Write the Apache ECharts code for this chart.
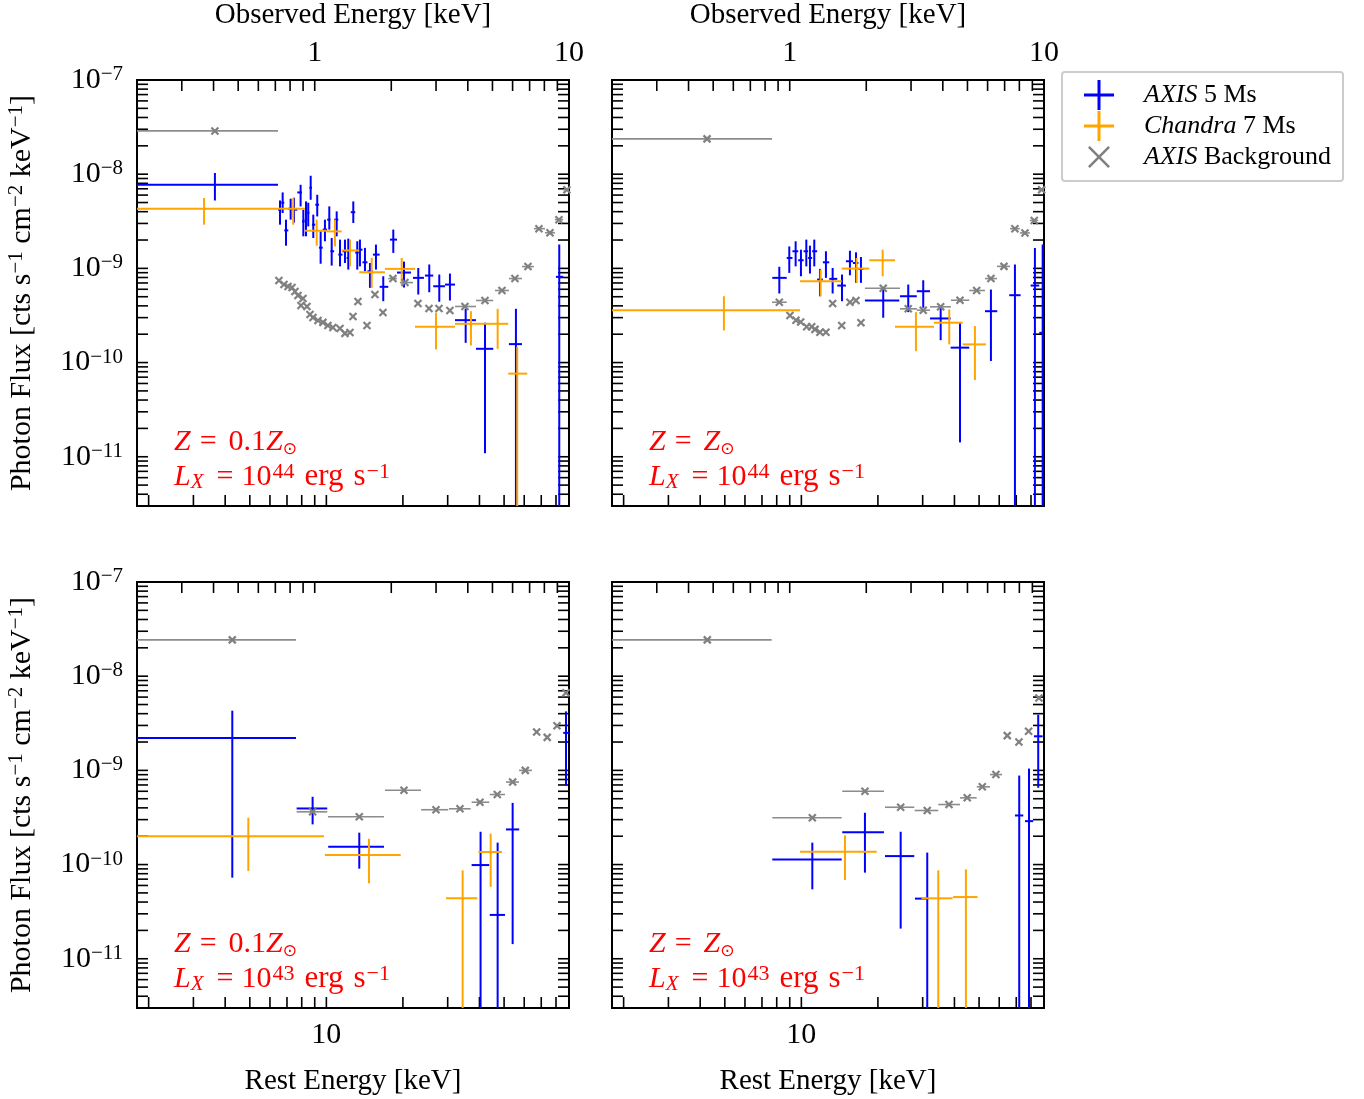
<!DOCTYPE html>
<html>
<head>
<meta charset="utf-8">
<script src="https://cdn.jsdelivr.net/npm/echarts@6.0.0/dist/echarts.min.js"></script>
<style>html,body{margin:0;padding:0;background:#fff}#chart{width:1364px;height:1099px}</style>
</head>
<body>
<div id="chart"></div>
<script>
// rows: [E_obs keV, flux, E_lo, E_hi, flux_lo, flux_hi]; 1e-13 = bar runs off the bottom
const axisZ01L44 = [
  [0.405, 7.72e-9, 0.2, 0.717, 5.26e-9, 1.03e-8],
  [0.730, 4.20e-9, 0.717, 0.739, 2.91e-9, 5.26e-9],
  [0.748, 4.98e-9, 0.739, 0.759, 3.87e-9, 6.40e-9],
  [0.771, 2.53e-9, 0.759, 0.787, 1.74e-9, 3.29e-9],
  [0.804, 4.30e-9, 0.787, 0.816, 3.29e-9, 5.49e-9],
  [0.829, 4.20e-9, 0.816, 0.854, 3.06e-9, 5.62e-9],
  [0.880, 6.40e-9, 0.854, 0.891, 4.55e-9, 7.72e-9],
  [0.902, 3.15e-9, 0.891, 0.913, 2.19e-9, 4.20e-9],
  [0.924, 3.29e-9, 0.913, 0.934, 2.19e-9, 5.14e-9],
  [0.943, 3.90e-9, 0.934, 0.953, 2.79e-9, 4.98e-9],
  [0.964, 7.18e-9, 0.953, 0.975, 5.35e-9, 9.62e-9],
  [0.987, 2.91e-9, 0.975, 1.005, 2.10e-9, 3.72e-9],
  [1.023, 4.74e-9, 1.005, 1.039, 3.56e-9, 6.05e-9],
  [1.055, 1.66e-9, 1.039, 1.075, 1.12e-9, 2.47e-9],
  [1.097, 2.58e-9, 1.075, 1.119, 1.94e-9, 3.29e-9],
  [1.141, 3.29e-9, 1.119, 1.153, 2.58e-9, 4.55e-9],
  [1.166, 1.52e-9, 1.153, 1.192, 1.07e-9, 2.10e-9],
  [1.220, 3.29e-9, 1.192, 1.238, 2.19e-9, 4.03e-9],
  [1.257, 1.40e-9, 1.238, 1.286, 1.05e-9, 2.02e-9],
  [1.315, 1.52e-9, 1.286, 1.335, 1.14e-9, 2.02e-9],
  [1.355, 1.29e-9, 1.335, 1.386, 9.71e-10, 2.07e-9],
  [1.418, 3.95e-9, 1.386, 1.443, 3.03e-9, 5.14e-9],
  [1.470, 1.47e-9, 1.443, 1.489, 9.71e-10, 1.94e-9],
  [1.506, 1.58e-9, 1.489, 1.541, 1.05e-9, 2.02e-9],
  [1.576, 1.16e-9, 1.541, 1.612, 9.32e-10, 1.65e-9],
  [1.649, 9.32e-10, 1.612, 1.694, 6.21e-10, 1.14e-9],
  [1.741, 1.40e-9, 1.694, 1.800, 9.71e-10, 1.79e-9],
  [1.860, 6.37e-10, 1.800, 1.946, 4.48e-10, 8.25e-10],
  [2.037, 2.02e-9, 1.976, 2.106, 1.46e-9, 2.58e-9],
  [2.244, 9.03e-10, 2.106, 2.390, 6.26e-10, 1.18e-9],
  [2.554, 7.93e-10, 2.434, 2.689, 5.28e-10, 1.01e-9],
  [2.821, 8.39e-10, 2.713, 2.925, 5.58e-10, 1.10e-9],
  [3.089, 6.46e-10, 2.925, 3.252, 4.42e-10, 8.60e-10],
  [3.402, 6.73e-10, 3.252, 3.561, 4.56e-10, 8.81e-10],
  [3.923, 2.82e-10, 3.561, 4.306, 1.62e-10, 3.72e-10],
  [4.673, 1.40e-10, 4.306, 5.036, 1.09e-11, 2.65e-10],
  [6.184, 1.57e-10, 5.804, 6.531, 1e-13, 3.72e-10],
  [9.155, 8.13e-10, 8.886, 9.493, 1e-13, 1.79e-9]
];
const chandraZ01L44 = [
  [0.367, 4.30e-9, 0.2, 0.730, 2.91e-9, 5.58e-9],
  [0.823, 4.30e-9, 0.730, 0.915, 2.91e-9, 5.58e-9],
  [1.018, 2.51e-9, 0.915, 1.114, 1.74e-9, 3.29e-9],
  [1.201, 2.47e-9, 1.114, 1.276, 1.71e-9, 3.29e-9],
  [1.376, 1.55e-9, 1.276, 1.497, 1.05e-9, 2.02e-9],
  [1.675, 9.09e-10, 1.497, 1.889, 6.21e-10, 1.29e-9],
  [2.198, 9.88e-10, 1.889, 2.479, 6.73e-10, 1.29e-9],
  [2.998, 2.40e-10, 2.479, 3.561, 1.38e-10, 3.38e-10],
  [4.115, 2.58e-10, 3.561, 4.715, 1.52e-10, 3.51e-10],
  [5.241, 2.58e-10, 4.715, 5.768, 1.40e-10, 3.72e-10],
  [6.257, 7.63e-11, 5.768, 6.853, 1e-13, 1.47e-10]
];
// rows: [E_obs keV, flux, E_lo, E_hi] (no bin given = only the cross)
const bkgZ01L44 = [
  [0.405, 2.88e-8, 0.2, 0.717],
  [0.723, 7.43e-10], [0.757, 6.73e-10], [0.785, 6.41e-10], [0.814, 6.26e-10],
  [0.836, 5.68e-10], [0.859, 5.15e-10], [0.899, 4.79e-10], [0.883, 4.04e-10],
  [0.932, 3.94e-10], [0.958, 3.24e-10], [0.984, 3.01e-10], [1.030, 2.80e-10],
  [1.077, 2.67e-10], [1.127, 2.48e-10], [1.179, 2.36e-10], [1.257, 2.30e-10],
  [1.315, 2.04e-10], [1.376, 2.09e-10], [1.414, 3.09e-10], [1.479, 4.45e-10],
  [1.605, 2.48e-10], [1.725, 5.28e-10], [1.855, 3.40e-10],
  [2.031, 7.80e-10, 1.946, 2.106],
  [2.264, 7.07e-10, 2.164, 2.434],
  [2.547, 4.24e-10], [2.814, 3.75e-10], [3.081, 3.75e-10], [3.402, 3.57e-10],
  [3.898, 3.94e-10, 3.561, 4.306],
  [4.673, 4.56e-10, 4.306, 5.036],
  [5.449, 5.82e-10, 5.114, 5.804],
  [6.129, 7.80e-10, 5.804, 6.531],
  [6.897, 1.045e-9, 6.531, 7.28],
  [7.617, 2.64e-9, 7.28, 8.04],
  [8.417, 2.39e-9, 8.04, 8.80],
  [9.13, 3.29e-9, 8.80, 9.49],
  [9.81, 6.83e-9, 9.49, 10]
];

const axisZ1L44 = [
  [0.910, 7.93e-10, 0.854, 0.973, 5.41e-10, 1.04e-9],
  [0.996, 1.29e-9, 0.973, 1.025, 8.96e-10, 1.71e-9],
  [1.055, 1.52e-9, 1.025, 1.080, 1.05e-9, 1.94e-9],
  [1.107, 1.22e-9, 1.080, 1.134, 8.25e-10, 1.58e-9],
  [1.162, 1.52e-9, 1.134, 1.181, 1.05e-9, 2.02e-9],
  [1.201, 1.29e-9, 1.181, 1.225, 8.81e-10, 1.74e-9],
  [1.249, 1.52e-9, 1.225, 1.282, 1.05e-9, 2.02e-9],
  [1.315, 7.61e-10, 1.282, 1.350, 5.06e-10, 9.88e-10],
  [1.388, 1.16e-9, 1.350, 1.430, 7.93e-10, 1.52e-9],
  [1.475, 7.74e-10, 1.430, 1.538, 5.41e-10, 1.01e-9],
  [1.605, 6.57e-10, 1.538, 1.663, 4.48e-10, 8.60e-10],
  [1.725, 1.19e-9, 1.663, 1.773, 8.45e-10, 1.54e-9],
  [1.822, 1.14e-9, 1.773, 1.863, 7.02e-10, 1.48e-9],
  [1.906, 9.88e-10, 1.863, 1.950, 7.02e-10, 1.32e-9],
  [2.332, 4.56e-10, 1.976, 2.697, 2.99e-10, 5.96e-10],
  [2.925, 5.06e-10, 2.713, 3.160, 3.43e-10, 6.73e-10],
  [3.350, 5.72e-10, 3.160, 3.561, 3.82e-10, 7.48e-10],
  [3.923, 2.94e-10, 3.561, 4.294, 1.73e-10, 3.97e-10],
  [4.673, 1.44e-10, 4.294, 5.082, 1.42e-11, 2.69e-10],
  [6.184, 3.51e-10, 5.859, 6.550, 1.04e-10, 5.96e-10],
  [7.686, 5.19e-10, 7.30, 8.09, 1e-13, 1.10e-9],
  [9.21, 6.57e-10, 8.86, 9.58, 1e-13, 1.65e-9],
  [9.88, 2.07e-10, 9.58, 10, 1e-13, 1.79e-9]
];
const chandraZ1L44 = [
  [0.551, 3.60e-10, 0.2, 1.097, 2.19e-10, 5.06e-10],
  [1.323, 7.30e-10, 1.097, 1.601, 5.06e-10, 9.71e-10],
  [1.833, 9.95e-10, 1.601, 2.055, 7.02e-10, 1.29e-9],
  [2.320, 1.22e-9, 2.055, 2.594, 8.25e-10, 1.58e-9],
  [3.136, 2.40e-10, 2.594, 3.692, 1.32e-10, 3.43e-10],
  [4.240, 2.65e-10, 3.692, 4.790, 1.56e-10, 3.66e-10],
  [5.350, 1.56e-10, 4.790, 5.910, 6.53e-11, 2.44e-10]
];
const bkgZ1L44 = [
  [0.473, 2.37e-8, 0.2, 0.852],
  [0.910, 4.37e-10, 0.852, 0.973],
  [1.002, 3.16e-10], [1.058, 2.82e-10], [1.104, 2.69e-10], [1.166, 2.40e-10],
  [1.220, 2.40e-10], [1.257, 2.25e-10], [1.315, 2.10e-10], [1.388, 2.10e-10],
  [1.475, 4.24e-10], [1.601, 2.48e-10], [1.725, 4.37e-10], [1.822, 4.56e-10],
  [1.906, 2.65e-10],
  [2.332, 6.15e-10, 1.976, 2.713],
  [2.925, 3.72e-10, 2.713, 3.165],
  [3.350, 3.60e-10, 3.165, 3.561],
  [3.923, 3.91e-10, 3.561, 4.306],
  [4.673, 4.59e-10, 4.306, 5.082],
  [5.434, 5.82e-10, 5.082, 5.859],
  [6.184, 7.80e-10, 5.859, 6.531],
  [6.960, 1.05e-9, 6.531, 7.347],
  [7.686, 2.64e-9, 7.347, 8.04],
  [8.417, 2.38e-9, 8.04, 8.80],
  [9.155, 3.23e-9, 8.80, 9.49],
  [9.79, 6.83e-9, 9.49, 10]
];

const axisZ01L43 = [
  [0.474, 2.21e-9, 0.2, 0.844, 7.26e-11, 4.30e-9],
  [0.981, 3.94e-10, 0.849, 1.12, 2.67e-10, 5.24e-10],
  [1.497, 1.55e-10, 1.13, 1.872, 9.05e-11, 2.18e-10],
  [4.49, 9.88e-11, 4.14, 4.858, 1e-13, 2.23e-10],
  [5.24, 2.92e-11, 4.88, 5.60, 1e-13, 1.71e-10],
  [6.003, 2.36e-10, 5.65, 6.37, 1.43e-11, 4.52e-10],
  [9.73, 2.50e-9, 9.49, 10, 6.90e-10, 4.23e-9]
];
const chandraZ01L43 = [
  [0.548, 2.00e-10, 0.2, 1.087, 8.53e-11, 3.14e-10],
  [1.634, 1.26e-10, 1.097, 2.178, 6.32e-11, 1.88e-10],
  [3.817, 4.38e-11, 3.282, 4.357, 1e-13, 8.68e-11],
  [4.92, 1.36e-10, 4.40, 5.449, 5.80e-11, 2.13e-10]
];
const bkgZ01L43 = [
  [0.474, 2.43e-8, 0.2, 0.844],
  [0.981, 3.63e-10, 0.849, 1.12],
  [1.497, 3.22e-10, 1.127, 1.872],
  [2.244, 6.15e-10, 1.889, 2.617],
  [2.998, 3.82e-10, 2.62, 3.35],
  [3.725, 3.91e-10, 3.372, 4.104],
  [4.465, 4.59e-10, 4.14, 4.858],
  [5.222, 5.54e-10, 4.88, 5.60],
  [6.003, 7.52e-10, 5.65, 6.36],
  [6.73, 1.00e-9, 6.36, 7.15],
  [7.46, 2.56e-9], [8.21, 2.24e-9], [8.97, 2.98e-9], [9.73, 6.67e-9]
];

const axisZ1L43 = [
  [1.227, 1.135e-10, 0.854, 1.601, 5.46e-11, 1.71e-10],
  [1.976, 2.21e-10, 1.609, 2.347, 8.21e-11, 3.55e-10],
  [2.731, 1.23e-10, 2.37, 3.089, 2.09e-11, 2.23e-10],
  [3.474, 4.35e-11, 3.108, 3.51, 1e-13, 1.34e-10],
  [7.99, 3.32e-10, 7.686, 8.29, 1e-13, 8.81e-10],
  [8.73, 2.89e-10, 8.417, 9.07, 1e-13, 1.045e-9],
  [9.49, 2.30e-9, 9.13, 9.88, 6.53e-10, 3.90e-9]
];
const chandraZ1L43 = [
  [1.649, 1.37e-10, 1.097, 2.198, 6.85e-11, 2.04e-10],
  [3.838, 4.38e-11, 3.30, 4.37, 1e-13, 8.68e-11],
  [4.93, 4.52e-11, 4.39, 5.48, 1e-13, 8.90e-11]
];
const bkgZ1L43 = [
  [0.474, 2.43e-8, 0.2, 0.849],
  [1.227, 3.14e-10, 0.854, 1.601],
  [1.976, 6.00e-10, 1.609, 2.347],
  [2.731, 4.06e-10, 2.37, 3.089],
  [3.474, 3.75e-10, 3.10, 3.838],
  [4.23, 4.34e-10, 3.838, 4.673],
  [4.99, 5.11e-10, 4.673, 5.434],
  [5.72, 6.69e-10, 5.44, 6.13],
  [6.47, 9.03e-10, 6.13, 6.84],
  [7.17, 2.34e-9], [7.97, 2.00e-9], [8.70, 2.60e-9], [9.55, 5.86e-9]
];

// axis ranges (rest energy = observed x 9, z = 8)
const obsRange = [0.2, 10];
const restRange = [1.8, 90];
const fluxRange = [3e-12, 1e-7];

const FONT = 'Liberation Serif';
const BLUE = '#0000ff', ORANGE = '#ffa500', GREY = '#808080';

function decadeTicks(lo, hi) {
  const out = [];
  for (let e = Math.floor(Math.log10(lo)); e <= Math.ceil(Math.log10(hi)); e++) {
    for (let m = 1; m < 10; m++) {
      const v = m * Math.pow(10, e);
      if (v >= lo * 0.999 && v <= hi * 1.001) out.push(v);
    }
  }
  return out;
}
const obsTicks = decadeTicks(obsRange[0], obsRange[1]);
const restTicks = decadeTicks(restRange[0], restRange[1]);
const fluxTicks = decadeTicks(fluxRange[0], fluxRange[1]);

const panels = [
  { x: 137, y: 80, top: true, left: true, axis: axisZ01L44, chandra: chandraZ01L44, bkg: bkgZ01L44, z: '0.1', lx: '44' },
  { x: 612, y: 80, top: true, left: false, axis: axisZ1L44, chandra: chandraZ1L44, bkg: bkgZ1L44, z: '', lx: '44' },
  { x: 137, y: 582, top: false, left: true, axis: axisZ01L43, chandra: chandraZ01L43, bkg: bkgZ01L43, z: '0.1', lx: '43' },
  { x: 612, y: 582, top: false, left: false, axis: axisZ1L43, chandra: chandraZ1L43, bkg: bkgZ1L43, z: '', lx: '43' }
];
const W = 432, H = 426, TICK = 11;

function isPow10(v) {
  const e = Math.log10(v);
  return Math.abs(e - Math.round(e)) < 1e-6;
}
function plainPow(v) {
  if (!isPow10(v) || v < 1) return '';
  return String(Math.round(v));
}
function fluxLabel(v) {
  if (!isPow10(v)) return '';
  const r = Math.round(Math.log10(v));
  return '{b|10}{s|' + (r < 0 ? '\u2212' : '') + Math.abs(r) + '}';
}

function tickLine(x1, y1, x2, y2) {
  return { type: 'line', shape: { x1: x1, y1: y1, x2: x2, y2: y2 }, style: { stroke: '#000', lineWidth: 1.6 } };
}
function yTickRender(params, api) {
  const cs = params.coordSys;
  const y = api.coord([1, api.value(1)])[1];
  return { type: 'group', children: [
    tickLine(cs.x, y, cs.x + TICK, y),
    tickLine(cs.x + cs.width - TICK, y, cs.x + cs.width, y)
  ] };
}
function topTickRender(params, api) {
  const cs = params.coordSys;
  const x = api.coord([api.value(0), 1e-9])[0];
  return tickLine(x, cs.y, x, cs.y + TICK);
}
function bottomTickRender(params, api) {
  const cs = params.coordSys;
  const x = api.coord([api.value(0), 1e-9])[0];
  return tickLine(x, cs.y + cs.height - TICK, x, cs.y + cs.height);
}

function errRender(color) {
  return function (params, api) {
    const cs = params.coordSys;
    const e = api.value(0), f = api.value(1);
    const c = api.coord([e, f]);
    const xl = Math.max(api.coord([api.value(2), f])[0], cs.x);
    const xr = Math.min(api.coord([api.value(3), f])[0], cs.x + cs.width);
    const yb = Math.min(api.coord([e, api.value(4)])[1], cs.y + cs.height);
    const yt = Math.max(api.coord([e, api.value(5)])[1], cs.y);
    return { type: 'group', children: [
      { type: 'line', shape: { x1: xl, y1: c[1], x2: xr, y2: c[1] }, style: { stroke: color, lineWidth: 2 } },
      { type: 'line', shape: { x1: c[0], y1: yt, x2: c[0], y2: yb }, style: { stroke: color, lineWidth: 2 } }
    ] };
  };
}
function bkgRender(params, api) {
  const e = api.value(0), f = api.value(1);
  const c = api.coord([e, f]);
  const lo = api.value(2), hi = api.value(3);
  const kids = [];
  if (lo > 0 && hi > 0) {
    kids.push({ type: 'line', shape: { x1: api.coord([lo, f])[0], y1: c[1], x2: api.coord([hi, f])[0], y2: c[1] },
      style: { stroke: '#8c8c8c', lineWidth: 1.6 } });
  }
  const s = 3.5;
  kids.push({ type: 'line', shape: { x1: c[0] - s, y1: c[1] - s, x2: c[0] + s, y2: c[1] + s }, style: { stroke: GREY, lineWidth: 2.2 } });
  kids.push({ type: 'line', shape: { x1: c[0] - s, y1: c[1] + s, x2: c[0] + s, y2: c[1] - s }, style: { stroke: GREY, lineWidth: 2.2 } });
  return { type: 'group', children: kids };
}

const grids = [], xAxes = [], yAxes = [], series = [], graphics = [];
const labelBase = { fontFamily: FONT, fontSize: 30, color: '#000' };

panels.forEach(function (p, i) {
  grids.push({ left: p.x, top: p.y, width: W, height: H, show: true, borderColor: '#000', borderWidth: 2,
    backgroundColor: 'transparent', containLabel: false, outerBoundsMode: 'none' });
  xAxes.push({ type: 'log', logBase: 10, gridIndex: i, position: 'top', min: obsRange[0], max: obsRange[1],
    axisLine: { show: false }, axisTick: { show: false }, splitLine: { show: false },
    axisLabel: Object.assign({ show: p.top, margin: 12, formatter: plainPow }, labelBase) });
  xAxes.push({ type: 'log', logBase: 10, gridIndex: i, position: 'bottom', min: restRange[0], max: restRange[1],
    axisLine: { show: false }, axisTick: { show: false }, splitLine: { show: false },
    axisLabel: Object.assign({ show: !p.top, margin: 12, formatter: plainPow }, labelBase) });
  yAxes.push({ type: 'log', logBase: 10, gridIndex: i, min: fluxRange[0], max: fluxRange[1],
    axisLine: { show: false }, axisTick: { show: false }, splitLine: { show: false },
    axisLabel: { show: p.left, margin: 14, formatter: fluxLabel,
      rich: { b: { fontFamily: FONT, fontSize: 30, color: '#000', lineHeight: 32 },
              s: { fontFamily: FONT, fontSize: 21, color: '#000', verticalAlign: 'top', lineHeight: 15 } } } });

  const xo = 2 * i, xr = 2 * i + 1;
  series.push({ type: 'custom', xAxisIndex: xo, yAxisIndex: i, silent: true, z: 1,
    renderItem: yTickRender, data: fluxTicks.map(function (v) { return [1, v]; }) });
  series.push({ type: 'custom', xAxisIndex: xo, yAxisIndex: i, silent: true, z: 1,
    renderItem: topTickRender, data: obsTicks.map(function (v) { return [v, 1e-9]; }) });
  series.push({ type: 'custom', xAxisIndex: xr, yAxisIndex: i, silent: true, z: 1,
    renderItem: bottomTickRender, data: restTicks.map(function (v) { return [v, 1e-9]; }) });

  const errDims = ['e', 'f', 'elo', 'ehi', 'flo', 'fhi'];
  series.push({ type: 'custom', name: 'AXIS 5 Ms', xAxisIndex: xo, yAxisIndex: i, silent: true, z: 3,
    itemStyle: { color: BLUE }, dimensions: errDims, encode: { x: 'e', y: 'f' },
    renderItem: errRender(BLUE), data: p.axis });
  series.push({ type: 'custom', name: 'Chandra 7 Ms', xAxisIndex: xo, yAxisIndex: i, silent: true, z: 4,
    itemStyle: { color: ORANGE }, dimensions: errDims, encode: { x: 'e', y: 'f' },
    renderItem: errRender(ORANGE), data: p.chandra });
  series.push({ type: 'custom', name: 'AXIS Background', xAxisIndex: xo, yAxisIndex: i, silent: true, z: 5,
    itemStyle: { color: GREY }, dimensions: ['e', 'f', 'lo', 'hi'], encode: { x: 'e', y: 'f' },
    renderItem: bkgRender, data: p.bkg });

  // annotation
  const red = '#ff0000';
  const rich = {
    i: { fontFamily: FONT, fontSize: 30, fontStyle: 'italic', fill: red, lineHeight: 32 },
    eqZ: { fontFamily: FONT, fontSize: 30, fill: red, lineHeight: 32, padding: [0, 12, 0, 9] },
    eqL: { fontFamily: FONT, fontSize: 30, fill: red, lineHeight: 32, padding: [0, 8, 0, 13] },
    u: { fontFamily: FONT, fontSize: 31, fill: red, lineHeight: 32, padding: [0, 0, 0, 10] },
    isub: { fontFamily: FONT, fontSize: 21, fontStyle: 'italic', fill: red, verticalAlign: 'bottom', lineHeight: 15 },
    sub: { fontFamily: 'DejaVu Sans', fontSize: 17, fill: red, verticalAlign: 'bottom', lineHeight: 15 },
    sup: { fontFamily: FONT, fontSize: 22, fill: red, verticalAlign: 'top', lineHeight: 15, padding: [0, 0, 0, 1] }
  };
  graphics.push({ type: 'text', x: p.x + 37, y: p.y + 362, silent: true,
    style: { text: '{i|Z}{eqZ|=}' + p.z + '{i|Z}{sub|\u2299}', fill: red, fontFamily: FONT, fontSize: 30,
      lineHeight: 32, verticalAlign: 'middle', align: 'left', rich: rich } });
  graphics.push({ type: 'text', x: p.x + 37, y: p.y + 397, silent: true,
    style: { text: '{i|L}{isub|X}{eqL|=}10{sup|' + p.lx + '}{u|erg}{u|s}{sup|\u22121}', fill: red, fontFamily: FONT, fontSize: 30,
      lineHeight: 32, verticalAlign: 'middle', align: 'left', rich: rich } });

  const cx = p.x + W / 2;
  if (p.top) {
    graphics.push({ type: 'text', x: cx, y: 15, silent: true,
      style: { text: 'Observed Energy [keV]', fill: '#000', fontFamily: FONT, fontSize: 29, align: 'center', verticalAlign: 'middle' } });
  } else {
    graphics.push({ type: 'text', x: cx, y: 1081, silent: true,
      style: { text: 'Rest Energy [keV]', fill: '#000', fontFamily: FONT, fontSize: 29, align: 'center', verticalAlign: 'middle' } });
  }
  if (p.left) {
    graphics.push({ type: 'text', x: 22, y: p.y + H / 2, rotation: Math.PI / 2, silent: true,
      style: { text: 'Photon Flux [cts s{s|\u22121} cm{s|\u22122} keV{s|\u22121}]', fill: '#000', fontFamily: FONT,
        fontSize: 30, lineHeight: 32, align: 'center', verticalAlign: 'middle',
        rich: { s: { fontFamily: FONT, fontSize: 21, fill: '#000', verticalAlign: 'top', lineHeight: 15 } } } });
  }
});

const plusIcon = 'path://M0,13.5H30V16.5H0ZM13.5,0H16.5V30H13.5Z';
const crossIcon = 'path://M-4,-4h0.01v0.01h-0.01ZM26,26h0.01v0.01h-0.01Z' +
  'M0,1.8L1.8,0L22,20.2L20.2,22ZM20.2,0L22,1.8L1.8,22L0,20.2Z';

const option = {
  animation: false,
  backgroundColor: '#ffffff',
  grid: grids,
  xAxis: xAxes,
  yAxis: yAxes,
  legend: {
    left: 1062, top: 72, orient: 'vertical', selectedMode: false,
    padding: [8, 12, 9, 22], itemGap: 1, itemWidth: 30, itemHeight: 30,
    borderColor: '#cccccc', borderWidth: 2, borderRadius: 3,
    data: [
      { name: 'AXIS 5 Ms', icon: plusIcon, itemStyle: { color: BLUE } },
      { name: 'Chandra 7 Ms', icon: plusIcon, itemStyle: { color: ORANGE } },
      { name: 'AXIS Background', icon: crossIcon, itemStyle: { color: GREY } }
    ],
    formatter: function (name) {
      const k = name.indexOf(' ');
      return '{it|' + name.slice(0, k) + '}' + name.slice(k);
    },
    textStyle: { fontFamily: FONT, fontSize: 26, color: '#000',
      rich: { it: { fontFamily: FONT, fontSize: 26, fontStyle: 'italic', color: '#000', padding: [0, 0, 0, 25] } } }
  },
  graphic: graphics,
  series: series
};

const chart = echarts.init(document.getElementById('chart'), null, { renderer: 'canvas' });
chart.setOption(option);
</script>
</body>
</html>
